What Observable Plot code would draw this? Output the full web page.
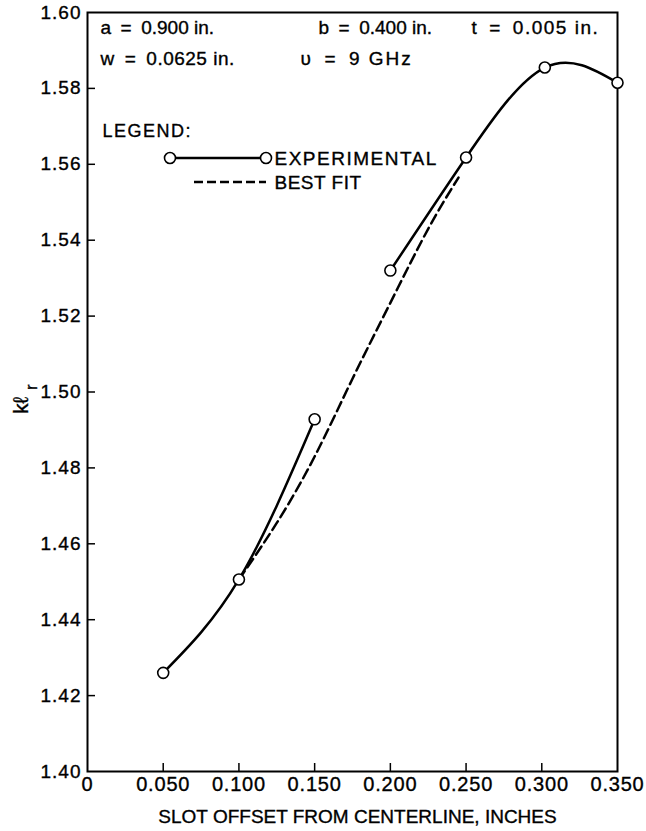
<!DOCTYPE html>
<html><head><meta charset="utf-8">
<script src="https://cdn.jsdelivr.net/npm/d3@7"></script>
<script src="https://cdn.jsdelivr.net/npm/@observablehq/plot@0.6"></script>
<style>
body{margin:0;background:#fff;}
#chart svg text{stroke:#000;stroke-width:0.35px;letter-spacing:0;}
#chart svg g[aria-label="x-axis tick label"] text{letter-spacing:0.8px;}
#chart svg g[aria-label="y-axis tick label"] text{letter-spacing:1px;}
</style>
</head><body><div id="chart"></div>
<script>
// ---- data ----
const expAx = [0.05, 0.10, 0.15];
const expAy = [1.426, 1.4506, 1.4928];
const expBx = [0.20, 0.25, 0.302, 0.35];
const expBy = [1.532, 1.5618, 1.5855, 1.5815];
const fitX = [0.10, 0.125, 0.15, 0.175, 0.20, 0.225, 0.245];
const fitY = [1.4506, 1.4655, 1.4830, 1.5035, 1.5235, 1.5430, 1.5565];
const xTicks = [0, 0.05, 0.10, 0.15, 0.20, 0.25, 0.30, 0.35];
const xTickLabels = ["0", "0.050", "0.100", "0.150", "0.200", "0.250", "0.300", "0.350"];
const yTicks = [1.40, 1.42, 1.44, 1.46, 1.48, 1.50, 1.52, 1.54, 1.56, 1.58, 1.60];
const yTickLabels = ["1.40", "1.42", "1.44", "1.46", "1.48", "1.50", "1.52", "1.54", "1.56", "1.58", "1.60"];
const paramTexts = ["a\u2002=\u20020.900 in.", "b\u2002=\u20020.400 in.", "t\u2002=\u20020.005 in.", "w\u2002=\u20020.0625 in.", "\u03c5\u2002=\u20029 GHz"];
const legendTitle = "LEGEND:";
const legendLabels = ["EXPERIMENTAL", "BEST FIT"];
const xLabel = "SLOT OFFSET FROM CENTERLINE, INCHES";

// ---- tables ----
const expA = expAx.map((x, i) => ({x, y: expAy[i]}));
const expB = expBx.map((x, i) => ({x, y: expBy[i]}));
const fit = fitX.map((x, i) => ({x, y: fitY[i]}));

// ---- layout (style) ----
const W = 646, H = 831, mL = 87, mR = 29, mT = 12, mB = 60;
const innerW = W - mL - mR, innerH = H - mT - mB;
const font = "'Liberation Sans', Arial, Helvetica, sans-serif";
const paramPos = [[13, 15], [231, 15], [384, 15], [13, 46], [213, 46]];
const paramSpacing = [0, 0, 1.5, 0.5, 2];

function legendGlyphs(index, scales, values, dims) {
  const g = d3.create("svg:g");
  const ox = dims.marginLeft, oy = dims.marginTop;
  const y1 = oy + 146, y2 = oy + 170;
  g.append("line").attr("x1", ox + 83).attr("x2", ox + 179).attr("y1", y1).attr("y2", y1)
    .attr("stroke", "black").attr("stroke-width", 2.5);
  for (const cx of [ox + 83, ox + 179]) {
    g.append("circle").attr("cx", cx).attr("cy", y1).attr("r", 5.5)
      .attr("fill", "white").attr("stroke", "black").attr("stroke-width", 1.6);
  }
  g.append("line").attr("x1", ox + 107).attr("x2", ox + 179).attr("y1", y2).attr("y2", y2)
    .attr("stroke", "black").attr("stroke-width", 2.5).attr("stroke-dasharray", "9,4");
  return g.node();
}

const chart = Plot.plot({
  width: W, height: H,
  marginLeft: mL, marginRight: mR, marginTop: mT, marginBottom: mB,
  style: {fontFamily: font, fontSize: "18px", background: "white", color: "black"},
  x: {domain: [0, 0.35]},
  y: {domain: [1.40, 1.60]},
  marks: [
    Plot.frame({stroke: "black", strokeWidth: 2}),
    Plot.tickX(xTicks.slice(1, -1), {x: d => d, insetTop: innerH - 8, strokeWidth: 1.5}),
    Plot.tickY(yTicks.slice(1, -1), {y: d => d, insetRight: innerW - 8, strokeWidth: 1.5}),
    Plot.axisX(xTicks, {tickSize: 0, tickPadding: 5, fontSize: 20, label: null,
      tickFormat: d => xTickLabels[xTicks.indexOf(d)]}),
    Plot.axisY(yTicks, {tickSize: 0, tickPadding: 6, fontSize: 19, label: null,
      tickFormat: d => yTickLabels[yTicks.indexOf(d)]}),
    Plot.text([xLabel], {frameAnchor: "bottom", dx: 5, dy: 45, fontSize: 19, lineAnchor: "middle", text: d => d}),
    Plot.text(["k\u2113"], {frameAnchor: "left", dx: -66, dy: 22, rotate: -90, fontSize: 21, text: d => d}),
    Plot.text(["r"], {frameAnchor: "left", dx: -56, dy: -2, rotate: -90, fontSize: 17, text: d => d}),
    ...paramTexts.map((t, i) => Plot.text([t], {frameAnchor: "top-left", dx: paramPos[i][0], dy: paramPos[i][1],
      textAnchor: "start", lineAnchor: "middle", fontSize: 19, text: d => d})),
    Plot.text([legendTitle], {frameAnchor: "top-left", dx: 15, dy: 119, textAnchor: "start", lineAnchor: "middle", fontSize: 18, text: d => d}),
    Plot.text([legendLabels[0]], {frameAnchor: "top-left", dx: 187, dy: 146, textAnchor: "start", lineAnchor: "middle", fontSize: 19, text: d => d}),
    Plot.text([legendLabels[1]], {frameAnchor: "top-left", dx: 187, dy: 170, textAnchor: "start", lineAnchor: "middle", fontSize: 19, text: d => d}),
    legendGlyphs,
    Plot.line(fit, {x: "x", y: "y", curve: "natural", stroke: "black", strokeWidth: 2.5, strokeDasharray: "10,5"}),
    Plot.line(expA, {x: "x", y: "y", curve: "natural", stroke: "black", strokeWidth: 2.5}),
    Plot.line(expB, {x: "x", y: "y", curve: "natural", stroke: "black", strokeWidth: 2.5}),
    Plot.dot([...expA, ...expB], {x: "x", y: "y", r: 5.5, fill: "white", stroke: "black", strokeWidth: 1.6})
  ]
});

// per-text letter spacing (style only)
const spacing = new Map([
  ...paramTexts.map((t, i) => [t, paramSpacing[i]]),
  [legendTitle, 1.5], [legendLabels[0], 1.5], [legendLabels[1], 0.5]
]);
d3.select(chart).selectAll("text").each(function() {
  const t = this.textContent;
  if (spacing.has(t)) this.style.letterSpacing = spacing.get(t) + "px";
});
document.getElementById("chart").appendChild(chart);
</script>
</body></html>
